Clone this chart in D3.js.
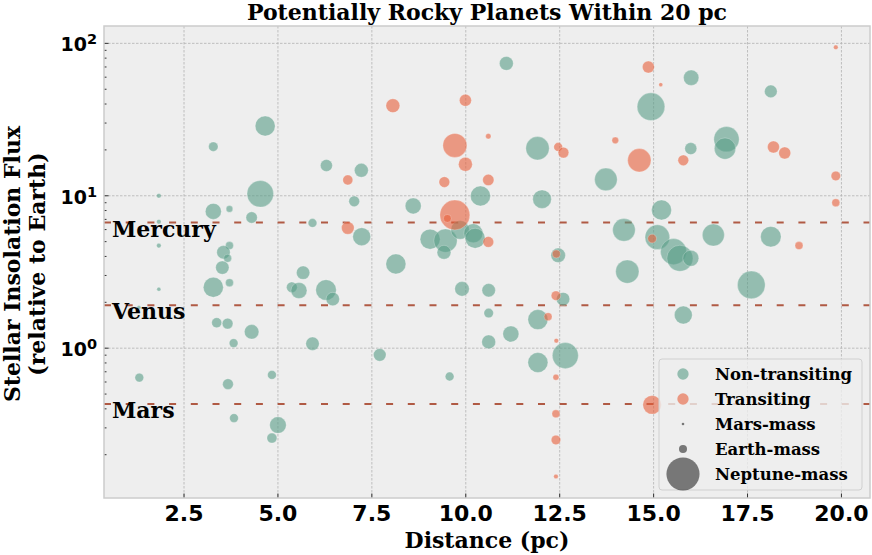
<!DOCTYPE html>
<html>
<head>
<meta charset="utf-8">
<script src="https://cdn.jsdelivr.net/npm/d3@7"></script>
<style>
  body { margin: 0; background: #fff; }
  svg text { font-weight: bold; }
</style>
</head>
<body>
<svg id="chart" width="872" height="555"></svg>
<script>
// non-transiting planets: distance (pc), insolation (Earth = 1), mass (Earth masses)
var nonTransDist = [4.66, 3.28, 4.53, 1.83, 3.28, 3.71, 4.30, 1.83, 1.83, 3.71, 3.55, 3.66, 3.52, 5.92,
  3.71, 3.28, 1.83, 1.30, 3.37, 3.66, 4.30, 3.82, 5.92, 5.67, 5.37, 5.56, 6.28, 6.46, 1.31, 3.67,
  4.84, 3.83, 5.00, 4.84, 11.08, 11.91, 6.29, 7.22, 7.03, 8.60, 10.39, 12.03, 7.23, 9.05, 9.46,
  9.85, 10.20, 10.25, 9.42, 8.14, 12.46, 9.90, 10.61, 12.59, 10.61, 11.92, 11.20, 10.61, 12.65,
  11.92, 7.71, 9.57, 16.00, 18.12, 14.93, 16.94, 16.90, 15.99, 13.73, 15.21, 14.21, 15.10, 15.53,
  15.70, 15.99, 16.59, 18.12, 14.30, 17.60, 15.79];
var nonTransFlux = [28.7, 21.0, 10.3, 10.0, 7.9, 8.2, 7.2, 6.76, 4.71, 4.71, 4.26, 3.89, 3.38, 6.63,
  2.69, 2.51, 2.44, 1.85, 1.47, 1.45, 1.28, 1.08, 1.07, 3.13, 2.51, 2.39, 2.41, 2.10, 0.641, 0.581,
  0.668, 0.348, 0.313, 0.257, 73.9, 20.5, 15.8, 14.7, 9.2, 8.58, 9.97, 9.5, 5.39, 5.19, 5.08,
  5.97, 5.68, 5.26, 4.26, 3.57, 4.07, 2.45, 2.40, 2.10, 1.70, 1.54, 1.24, 1.10, 0.894,
  0.805, 0.904, 0.652, 59.5, 48.4, 38.4, 23.5, 20.4, 20.4, 12.8, 8.07, 5.97, 5.35, 4.30,
  3.89, 3.89, 5.53, 5.39, 3.18, 2.60, 1.65];
var nonTransMass = [6.25, 1.4, 11, 0.33, 4, 0.7, 2, 0.33, 0.33, 1, 2.8, 1, 2.8, 1.2,
  1, 6.25, 0.25, 0.25, 1.56, 1.8, 3.3, 1.2, 2.8, 2.8, 1.8, 4, 6.6, 2.8, 1.2, 1.8,
  1.2, 1.2, 4.3, 1.56, 3, 8.5, 2.25, 3, 1.8, 4, 6.25, 5.4, 5, 6.25, 8.5,
  5.4, 5.6, 6.25, 3, 6.25, 3.3, 3.3, 2.8, 2.8, 1.4, 6.25, 4, 3, 10.6,
  6.25, 2.5, 1.2, 3.7, 2.5, 12, 10, 7.1, 2.25, 8, 6.25, 8, 9.5, 10.6,
  10.6, 4, 7.6, 6.6, 8.5, 12, 5];

// transiting planets
var transDist = [8.06, 9.99, 10.60, 9.71, 12.46, 12.60, 9.99, 9.43, 10.60, 6.86, 9.71, 9.51, 6.86,
  10.60, 12.41, 12.40, 12.19, 12.41, 12.40, 12.40, 12.40, 12.40, 14.86, 15.19, 19.85, 13.98,
  18.19, 18.49, 14.62, 15.79, 19.85, 19.85, 14.96, 18.87, 14.96];
var transFlux = [39.0, 42.3, 24.6, 21.4, 20.9, 19.2, 16.1, 12.3, 12.7, 12.7, 7.48, 7.1, 6.15,
  4.98, 4.15, 2.21, 1.61, 1.12, 0.645, 0.371, 0.25, 0.144, 69.9, 53.6, 94.2, 23.1,
  20.9, 19.1, 17.1, 17.1, 13.5, 9.0, 5.24, 4.71, 0.425];
var transMass = [3, 2.25, 0.45, 9, 1.2, 1.8, 3, 1.8, 2, 1.56, 14, 1, 2.5,
  1.8, 1, 1.4, 1, 0.33, 0.56, 1, 1.4, 0.33, 2.25, 0.25, 0.33, 0.7,
  2.25, 2.25, 8.5, 1.8, 1.4, 1, 1.2, 1, 5.4];

var planetNames = ['Mercury', 'Venus', 'Mars'];
var planetFlux = [6.67, 1.91, 0.431];

var sizeNames = ['Mars-mass', 'Earth-mass', 'Neptune-mass'];
var sizeMass = [0.107, 1, 17.15];

var xTicks = [2.5, 5.0, 7.5, 10.0, 12.5, 15.0, 17.5, 20.0];
var yTicks = [1, 10, 100];

var teal = '#589c87', orange = '#e75f3a';

var margin = {left: 104, right: 870, top: 26, bottom: 498};
var svg = d3.select('#chart');
var serif = 'DejaVu Serif, serif', sans = 'DejaVu Sans, sans-serif';

var x = d3.scaleLinear().domain([0.37, 20.76]).range([margin.left, margin.right]);
var y = d3.scaleLog().domain([0.104, 130]).range([margin.bottom, margin.top]);
var r = d3.scaleSqrt().domain([0, 1]).range([0, 4]);

// background
svg.append('rect')
	.attr('x', margin.left).attr('y', margin.top)
	.attr('width', margin.right - margin.left)
	.attr('height', margin.bottom - margin.top)
	.attr('fill', '#eeeeee');

// grid
var grid = svg.append('g')
	.attr('stroke', '#b2b2b2')
	.attr('stroke-width', 0.8)
	.attr('stroke-dasharray', '2.5,1.5');
grid.selectAll('.gx').data(xTicks).enter().append('line')
	.attr('x1', function(d) { return x(d); }).attr('x2', function(d) { return x(d); })
	.attr('y1', margin.top).attr('y2', margin.bottom);
grid.selectAll('.gy').data(yTicks).enter().append('line')
	.attr('y1', function(d) { return y(d); }).attr('y2', function(d) { return y(d); })
	.attr('x1', margin.left).attr('x2', margin.right);

// planet reference lines
svg.selectAll('.pline').data(planetFlux).enter().append('line')
	.attr('x1', margin.left).attr('x2', margin.right)
	.attr('y1', function(d) { return y(d); }).attr('y2', function(d) { return y(d); })
	.attr('stroke', '#b05a44')
	.attr('stroke-width', 2)
	.attr('stroke-dasharray', '7,14.7');

function toPoints(dist, flux, mass) {
	return dist.map(function(d, i) {
		return {dist: d, flux: flux[i], mass: mass[i]};
	});
}

function drawPoints(data, color) {
	svg.append('g').selectAll('circle').data(data).enter().append('circle')
		.attr('cx', function(d) { return x(d.dist); })
		.attr('cy', function(d) { return y(d.flux); })
		.attr('r', function(d) { return r(d.mass); })
		.attr('fill', color)
		.attr('fill-opacity', 0.6)
		.attr('stroke', '#ffffff')
		.attr('stroke-opacity', 0.25)
		.attr('stroke-width', 1);
}

drawPoints(toPoints(nonTransDist, nonTransFlux, nonTransMass), teal);
drawPoints(toPoints(transDist, transFlux, transMass), orange);

// planet labels
svg.selectAll('.plabel').data(planetNames).enter().append('text')
	.attr('x', margin.left + 8)
	.attr('y', function(d, i) { return y(planetFlux[i]) + 14; })
	.attr('font-family', serif)
	.attr('font-size', 22)
	.text(function(d) { return d; });

// axes ticks (inward)
var ticks = svg.append('g').attr('stroke', '#333').attr('stroke-width', 1);
ticks.selectAll('.tx').data(xTicks).enter().append('line')
	.attr('x1', function(d) { return x(d); }).attr('x2', function(d) { return x(d); })
	.attr('y1', margin.bottom).attr('y2', margin.bottom - 4.5);
var minor = [];
[0.1, 1, 10, 100].forEach(function(dec) {
	for (var k = 2; k <= 9; k++) {
		var v = dec * k;
		if (v > 0.104 && v < 130) minor.push(v);
	}
});
ticks.selectAll('.ty').data(yTicks).enter().append('line')
	.attr('y1', function(d) { return y(d); }).attr('y2', function(d) { return y(d); })
	.attr('x1', margin.left).attr('x2', margin.left + 4.5);
ticks.selectAll('.tm').data(minor).enter().append('line')
	.attr('y1', function(d) { return y(d); }).attr('y2', function(d) { return y(d); })
	.attr('x1', margin.left).attr('x2', margin.left + 2.5);

// frame
svg.append('rect')
	.attr('x', margin.left).attr('y', margin.top)
	.attr('width', margin.right - margin.left)
	.attr('height', margin.bottom - margin.top)
	.attr('fill', 'none')
	.attr('stroke', '#cccccc')
	.attr('stroke-width', 1.5);

// tick labels
svg.selectAll('.xl').data(xTicks).enter().append('text')
	.attr('x', function(d) { return x(d); })
	.attr('y', 521)
	.attr('text-anchor', 'middle')
	.attr('font-family', sans)
	.attr('font-size', 22)
	.text(function(d) { return d3.format('.1f')(d); });

var yl = svg.selectAll('.yl').data(yTicks).enter().append('text')
	.attr('x', 97)
	.attr('y', function(d) { return y(d) + 8; })
	.attr('text-anchor', 'end')
	.attr('font-family', sans)
	.attr('font-size', 19);
yl.append('tspan').text('10');
yl.append('tspan')
	.attr('dy', -7)
	.attr('font-size', 14.5)
	.text(function(d) { return Math.round(Math.log10(d)); });

// titles
svg.append('text')
	.attr('x', (margin.left + margin.right) / 2)
	.attr('y', 19.5)
	.attr('text-anchor', 'middle')
	.attr('font-family', serif)
	.attr('font-size', 22)
	.text('Potentially Rocky Planets Within 20 pc');

svg.append('text')
	.attr('x', (margin.left + margin.right) / 2)
	.attr('y', 548)
	.attr('text-anchor', 'middle')
	.attr('font-family', serif)
	.attr('font-size', 22)
	.text('Distance (pc)');

var ylab = svg.append('text')
	.attr('transform', 'translate(0,264) rotate(-90)')
	.attr('text-anchor', 'middle')
	.attr('font-family', serif)
	.attr('font-size', 22);
ylab.append('tspan').attr('x', 0).attr('y', 20).text('Stellar Insolation Flux');
ylab.append('tspan').attr('x', 0).attr('y', 45).text('(relative to Earth)');

// legend
var legend = svg.append('g');
legend.append('rect')
	.attr('x', 659).attr('y', 359)
	.attr('width', 203).attr('height', 131)
	.attr('rx', 3)
	.attr('fill', '#eeeeee')
	.attr('fill-opacity', 0.8)
	.attr('stroke', '#d0d0d0');

var legendItems = [
	{label: 'Non-transiting', color: teal, opacity: 0.6, mass: 2},
	{label: 'Transiting', color: orange, opacity: 0.6, mass: 2}
].concat(sizeNames.map(function(n, i) {
	return {label: n, color: '#000', opacity: 0.5, mass: sizeMass[i]};
}));

var li = legend.selectAll('.li').data(legendItems).enter().append('g')
	.attr('transform', function(d, i) { return 'translate(683,' + (374 + i * 25) + ')'; });
li.append('circle')
	.attr('r', function(d) { return r(d.mass); })
	.attr('fill', function(d) { return d.color; })
	.attr('fill-opacity', function(d) { return d.opacity; });
li.append('text')
	.attr('x', 32)
	.attr('y', 6)
	.attr('font-family', serif)
	.attr('font-size', 16.5)
	.text(function(d) { return d.label; });
</script>
</body>
</html>
